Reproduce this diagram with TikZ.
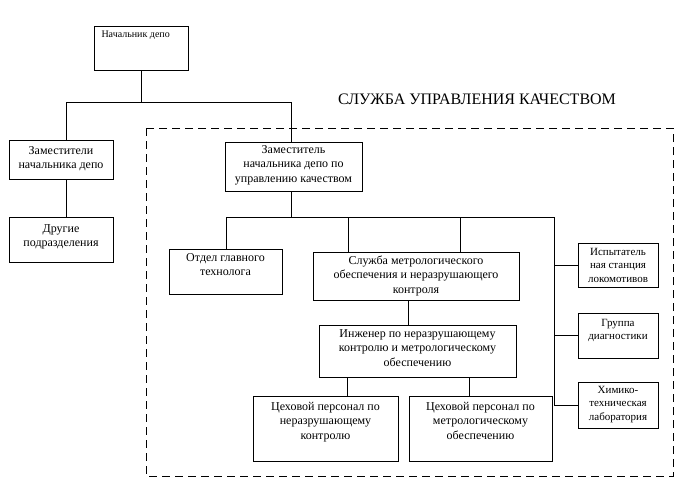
\documentclass[tikz,border=0pt]{standalone}
\usepackage{fontspec}
\setmainfont{Liberation Serif}
\newcommand{\bx}[4]{\parbox[c][#2][t]{#1}{\centering\vspace*{#3}\strut#4}}
\begin{document}
\begin{tikzpicture}[x=1pt,y=-1pt,line width=1pt,
  box/.style={draw,line width=1pt,inner sep=0pt,font=\fontsize{12}{14.5}\selectfont},
  sbox/.style={draw,line width=1pt,inner sep=0pt,font=\fontsize{11}{13.5}\selectfont},
  link/.style={line width=1pt},
  frame/.style={line width=1pt,dash pattern=on 8pt off 5pt}]
\useasboundingbox (0,0) rectangle (677,480);
% boxes
\node[draw,line width=1pt,minimum width=94pt,minimum height=44pt,inner sep=0pt] (nach) at (141,48) {};
\node[anchor=north west,inner sep=0pt,font=\fontsize{10}{12}\selectfont] (nachtxt) at (101,30) {Начальник депо};
\node[box] (zams) at (61,159.5) {\bx{104pt}{39pt}{4pt}{Заместители\\начальника депо}};
\node[box] (drugie) at (61,239.5) {\bx{104pt}{45pt}{5pt}{Другие\\подразделения}};
\node[box] (zam) at (293.5,166.5) {\bx{137pt}{49pt}{1pt}{Заместитель\\начальника депо по\\управлению качеством}};
\node[box] (otdel) at (225.5,271.5) {\bx{113pt}{45pt}{2pt}{Отдел главного\\технолога}};
\node[box] (sl) at (416,276) {\bx{206pt}{48pt}{2pt}{Служба метрологического\\обеспечения и неразрушающего\\контроля}};
\node[box] (inzh) at (417.5,351) {\bx{197pt}{52pt}{2pt}{Инженер по неразрушающему\\контролю и метрологическому\\обеспечению}};
\node[box] (ceh1) at (325.5,428.5) {\bx{145pt}{65pt}{4pt}{Цеховой персонал по\\неразрушающему\\контролю}};
\node[box] (ceh2) at (480.5,428.5) {\bx{143pt}{65pt}{4pt}{Цеховой персонал по\\метрологическому\\обеспечению}};
\node[sbox] (isp) at (618,265) {\bx{80pt}{44pt}{3pt}{Испытатель\\ная станция\\локомотивов}};
\node[sbox] (grp) at (618,335.5) {\bx{80pt}{45pt}{4pt}{Группа\\диагностики}};
\node[sbox] (him) at (618,405) {\bx{80pt}{46pt}{2pt}{Химико-\\техническая\\лаборатория}};
\node[font=\fontsize{16}{18}\selectfont,inner sep=0pt] (title) at (477,99) {СЛУЖБА УПРАВЛЕНИЯ КАЧЕСТВОМ};
% dashed frame
\draw[frame] (146,128) rectangle (673,476);
% junction coordinates
\coordinate (j1) at (141,102);
\coordinate (jL) at (66,102);
\coordinate (jR) at (291.5,102);
\coordinate (bA) at (226,217);
\coordinate (bZ) at (291.5,217);
\coordinate (bB) at (348,217);
\coordinate (bC) at (460,217);
\coordinate (bD) at (554,217);
\coordinate (v1) at (408,300);
\coordinate (c1) at (347,377);
\coordinate (c2) at (469,377);
% connectors
\draw[link] (nach.south) -- (j1);
\draw[link] (zams.north -| jL) -- (jL) -- (jR) -- (zam.north -| jR);
\draw[link] (zams.south -| jL) -- (drugie.north -| jL);
\draw[link] (zam.south -| bZ) -- (bZ);
\draw[link] (otdel.north -| bA) -- (bA) -- (bD) -- (bD |- him.west) -- (him.west);
\draw[link] (bD |- isp.west) -- (isp.west);
\draw[link] (bD |- grp.west) -- (grp.west);
\draw[link] (bB) -- (bB |- sl.north);
\draw[link] (bC) -- (bC |- sl.north);
\draw[link] (sl.south -| v1) -- (inzh.north -| v1);
\draw[link] (inzh.south -| c1) -- (ceh1.north -| c1);
\draw[link] (inzh.south -| c2) -- (ceh2.north -| c2);
\end{tikzpicture}
\end{document}
